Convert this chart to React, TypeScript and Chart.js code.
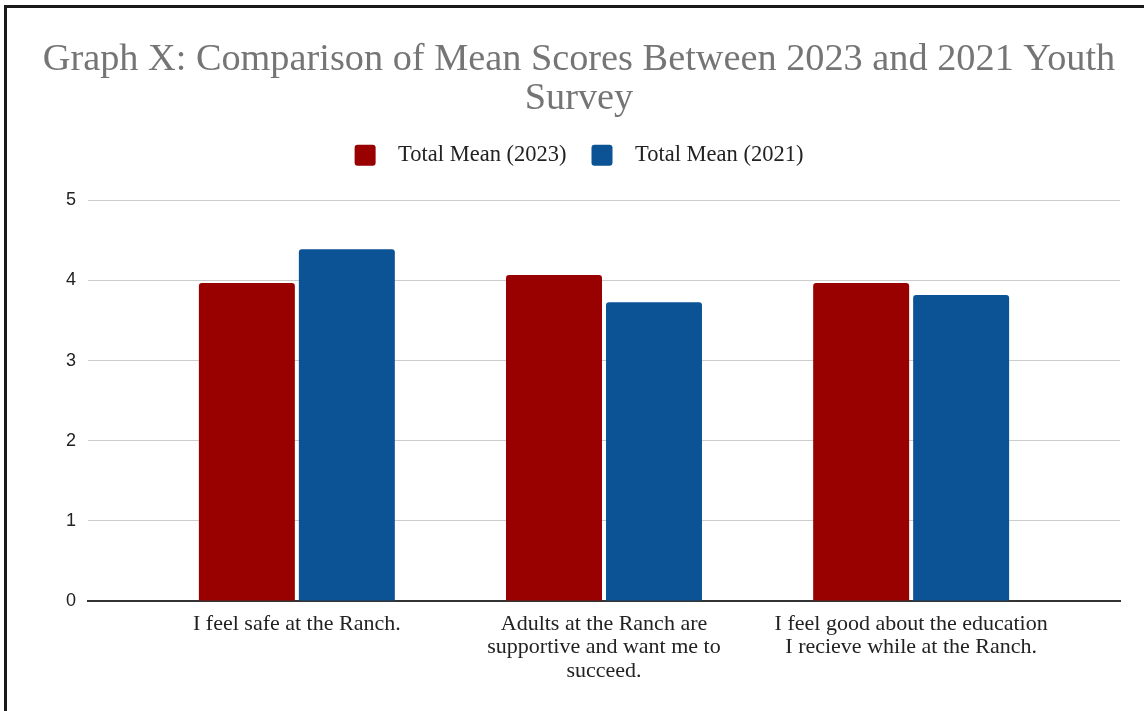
import React, { useEffect, useRef } from "react";
import { Chart, registerables } from "chart.js";

Chart.register(...registerables);

const TITLE_LINES = [
  "Graph X: Comparison of Mean Scores Between 2023 and 2021 Youth",
  "Survey",
];
const CATEGORY_LINES: string[][] = [
  ["I feel safe at the Ranch."],
  ["Adults at the Ranch are", "supportive and want me to", "succeed."],
  ["I feel good about the education", "I recieve while at the Ranch."],
];
const SERIES_NAMES = ["Total Mean (2023)", "Total Mean (2021)"];
const MEAN_2023 = [3.97, 4.07, 3.97];
const MEAN_2021 = [4.39, 3.73, 3.82];
const Y_TICKS = [0, 1, 2, 3, 4, 5];

const RED = "#990000";
const BLUE = "#0b5394";
const SERIF = "'Liberation Serif', 'Times New Roman', serif";
const SANS = "'Liberation Sans', Arial, sans-serif";

const legendSpacer = {
  id: "legendSpacer",
  beforeInit(chart: any) {
    const legend = chart.legend;
    if (!legend) return;
    const origFit = legend.fit;
    legend.fit = function () {
      origFit.call(this);
      this.height += 24;
    };
  },
};

export default function App() {
  const ref = useRef<HTMLCanvasElement | null>(null);

  useEffect(() => {
    if (!ref.current) return;
    const toPoints = (vals: number[]) => vals.map((v, i) => ({ x: i, y: v }));
    const chart = new Chart(ref.current, {
      type: "bar",
      plugins: [legendSpacer],
      data: {
        datasets: [
          {
            label: SERIES_NAMES[0],
            data: toPoints(MEAN_2023),
            backgroundColor: RED,
            borderRadius: { topLeft: 3, topRight: 3, bottomLeft: 0, bottomRight: 0 },
            borderSkipped: "bottom",
            barPercentage: 0.96,
            categoryPercentage: 0.651,
          },
          {
            label: SERIES_NAMES[1],
            data: toPoints(MEAN_2021),
            backgroundColor: BLUE,
            borderRadius: { topLeft: 3, topRight: 3, bottomLeft: 0, bottomRight: 0 },
            borderSkipped: "bottom",
            barPercentage: 0.96,
            categoryPercentage: 0.651,
          },
        ],
      },
      options: {
        responsive: false,
        animation: false,
        layout: { padding: { left: 38, right: 24, top: 0, bottom: 0 } },
        plugins: {
          title: {
            display: true,
            text: TITLE_LINES,
            color: "#757575",
            font: { family: SERIF, size: 38.3, weight: "normal", lineHeight: 1.03 },
            padding: { top: 40, bottom: 0 },
          },
          legend: {
            display: true,
            position: "top",
            labels: {
              color: "#222",
              font: { family: SERIF, size: 22.5 },
              boxWidth: 21,
              boxHeight: 21,
              padding: 25,
              useBorderRadius: true,
              borderRadius: 3,
              generateLabels: (c: any) => {
                const base = Chart.defaults.plugins.legend.labels.generateLabels(c);
                return base.map((l: any) => ({ ...l, text: "  " + l.text, lineWidth: 0 }));
              },
            },
          },
          tooltip: { enabled: false },
        },
        scales: {
          x: {
            type: "linear",
            offset: false,
            min: -0.68,
            max: 2.68,
            afterBuildTicks: (scale: any) => {
              scale.ticks = CATEGORY_LINES.map((_, i) => ({ value: i }));
            },
            afterFit: (scale: any) => {
              scale.height = 110;
            },
            ticks: {
              autoSkip: false,
              maxRotation: 0,
              minRotation: 0,
              color: "#222",
              font: { family: SERIF, size: 22, lineHeight: 1.05 },
              padding: 12,
              callback: (v: any) => CATEGORY_LINES[Math.round(Number(v))] ?? "",
            },
            grid: { display: false, drawTicks: false, offset: false },
            border: { display: true, color: "#333", width: 2 },
          },
          y: {
            min: 0,
            max: 5,
            afterBuildTicks: (scale: any) => {
              scale.ticks = Y_TICKS.map((v) => ({ value: v }));
            },
            afterFit: (scale: any) => {
              scale.width = 50;
            },
            ticks: {
              color: "#222",
              font: { family: SANS, size: 18 },
              padding: 12,
            },
            grid: { color: "#cccccc", lineWidth: 1, drawTicks: false },
            border: { display: false },
          },
        },
      },
    });
    return () => chart.destroy();
  }, []);

  return (
    <div style={{ position: "fixed", left: 0, top: 0, width: 1144, height: 711, background: "#fff", overflow: "hidden" }}>
      <div
        style={{
          position: "absolute",
          left: 4,
          top: 5,
          width: 1150,
          height: 704,
          borderLeft: "3px solid #1a1a1a",
          borderTop: "3px solid #1a1a1a",
          borderBottom: "1px solid #dddddd",
        }}
      />
      <canvas ref={ref} width={1144} height={711} style={{ position: "absolute", left: 0, top: 0 }} />
    </div>
  );
}
